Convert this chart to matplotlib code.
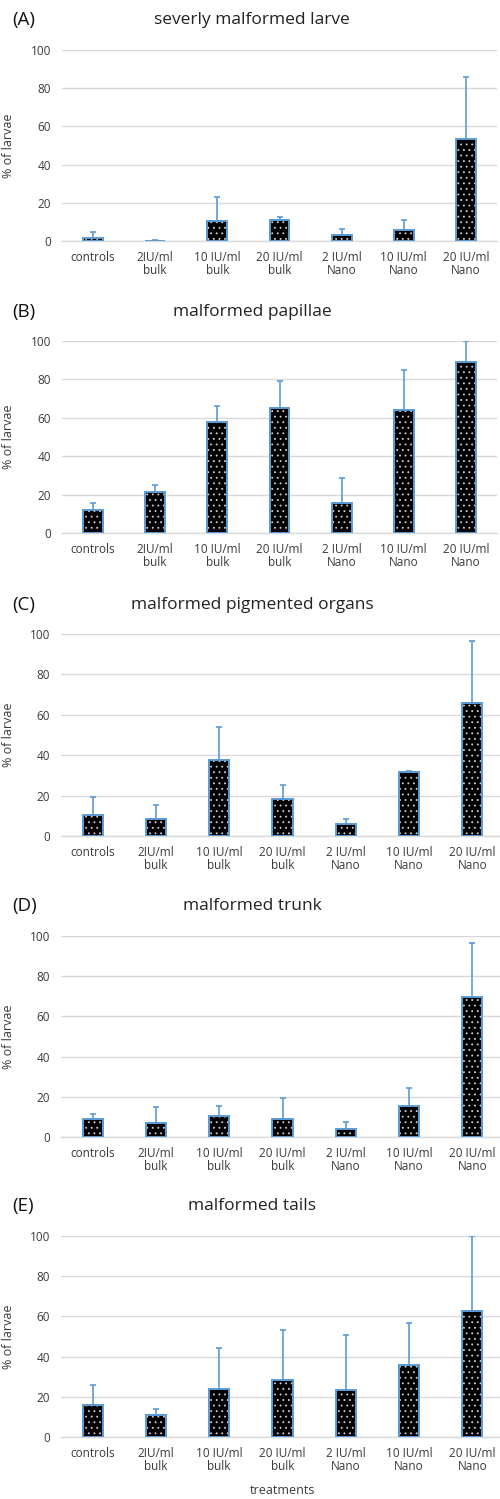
import matplotlib
matplotlib.use("Agg")
import matplotlib.pyplot as plt
import numpy as np

plt.rcParams['font.family'] = ['Open Sans', 'DejaVu Sans']
plt.rcParams['hatch.linewidth'] = 0.6

categories = ["controls", "2IU/ml\nbulk", "10 IU/ml\nbulk", "20 IU/ml\nbulk",
              "2 IU/ml\nNano", "10 IU/ml\nNano", "20 IU/ml\nNano"]

titles = ["severly malformed larve", "malformed papillae", "malformed pigmented organs",
          "malformed trunk", "malformed tails"]
panel_labels = ["(A)", "(B)", "(C)", "(D)", "(E)"]

means_A = [1.7, 0.0, 10.6, 11.1, 3.1, 5.7, 53.3]
err_A = [3.0, 0.7, 12.4, 1.6, 3.3, 5.3, 32.4]
means_B = [12.1, 21.3, 57.7, 65.2, 15.4, 64.3, 89.3]
err_B = [3.3, 3.7, 8.5, 14.0, 13.5, 20.4, 10.7]
means_C = [10.2, 8.3, 37.4, 18.5, 6.1, 31.7, 65.6]
err_C = [9.0, 6.9, 16.6, 6.6, 2.3, 0.5, 30.9]
means_D = [9.0, 6.8, 10.3, 8.8, 4.1, 15.6, 69.5]
err_D = [2.3, 8.1, 5.1, 10.4, 3.2, 8.9, 26.9]
means_E = [16.1, 10.8, 23.9, 28.5, 23.5, 36.0, 62.9]
err_E = [9.6, 3.0, 20.2, 24.7, 27.2, 20.7, 37.1]

yticks = [0, 20, 40, 60, 80, 100]

all_means = [means_A, means_B, means_C, means_D, means_E]
all_errs = [err_A, err_B, err_C, err_D, err_E]

W, H = 500, 1499
fig = plt.figure(figsize=(W / 100, H / 100), dpi=100)

# pixel layout: (left, top, width, bottom)
layout = [
    (62, 50, 435, 241),
    (62, 341, 435, 533),
    (61, 634, 443, 836),
    (61, 936, 443, 1137),
    (61, 1236, 443, 1437),
]
title_y = [20, 312, 605, 906, 1206]

blue = "#5B9BD5"
grid_c = "#D9D9D9"
text_c = "#3A3A3A"

x = np.arange(len(categories))
for i in range(5):
    l, t, w, b = layout[i]
    ax = fig.add_axes([l / W, 1 - b / H, w / W, (b - t) / H])
    m = all_means[i]
    e = all_errs[i]
    ax.errorbar(x, m, yerr=[np.zeros(len(m)), e], fmt='none', ecolor=blue,
                elinewidth=1.2, capsize=2.5, capthick=1.2, zorder=2)
    ax.bar(x, m, width=0.32, color='black', edgecolor='#D0D0D0', hatch='...',
           linewidth=0, zorder=3)
    ax.bar(x, m, width=0.32, facecolor='none', edgecolor=blue, linewidth=1.4, zorder=4)
    ax.set_xlim(-0.5, len(categories) - 0.5)
    ax.set_ylim(0, 100)
    ax.set_yticks(yticks)
    ax.yaxis.grid(True, color=grid_c, linewidth=1)
    ax.set_axisbelow(True)
    for s in ['top', 'right', 'left']:
        ax.spines[s].set_visible(False)
    ax.spines['bottom'].set_color(grid_c)
    ax.spines['bottom'].set_linewidth(1)
    ax.set_xticks(x)
    ax.set_xticklabels(categories, fontsize=8.5, color=text_c, linespacing=1.0)
    ax.tick_params(axis='both', length=0, colors=text_c)
    ax.tick_params(axis='x', pad=7, labelsize=8.5)
    ax.tick_params(axis='y', pad=8, labelsize=8.5)
    ax.set_ylabel("% of larvae", fontsize=9, color=text_c)
    ax.yaxis.set_label_coords((15 - l) / w, 0.5)
    fig.text(252 / W, 1 - title_y[i] / H, titles[i], ha='center', va='center',
             fontsize=12.5, color='#222222')
    fig.text(12 / W, 1 - title_y[i] / H, panel_labels[i], ha='left', va='center',
             fontsize=13.5, color='#111111')
    if i == 4:
        ax.set_xlabel("treatments", fontsize=9, color=text_c)
        ax.xaxis.set_label_coords((283 - l) / w, -(1484 - b) / (b - t))

fig.savefig("out.png", dpi=100)
